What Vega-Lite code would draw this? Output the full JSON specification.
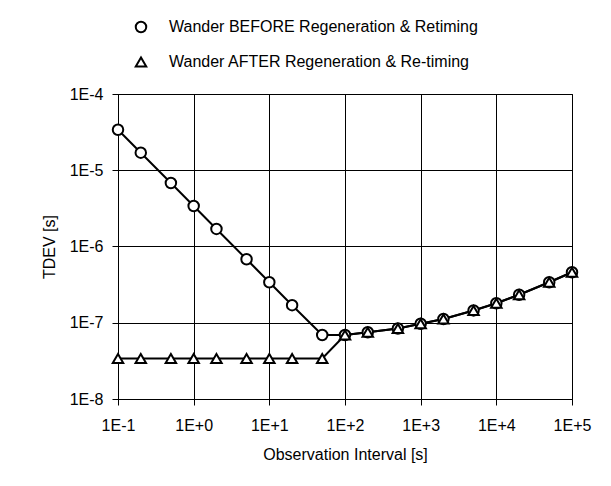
{
  "$schema": "https://vega.github.io/schema/vega-lite/v6.json",
  "autosize": "none",
  "width": 454,
  "height": 305,
  "padding": {"left": 118, "top": 94, "right": 39, "bottom": 87},
  "background": "white",
  "config": {
    "font": "Liberation Sans",
    "view": {"stroke": "black", "strokeWidth": 1},
    "axis": {
      "domainColor": "black",
      "gridColor": "black",
      "gridOpacity": 1,
      "gridWidth": 1,
      "tickColor": "black",
      "tickSize": 6,
      "labelFont": "Liberation Sans",
      "labelFontSize": 16,
      "labelColor": "black",
      "titleFont": "Liberation Sans",
      "titleFontSize": 16,
      "titleFontWeight": "normal",
      "titleColor": "black"
    }
  },
  "data": {
    "values": [
      {"series": "Wander BEFORE Regeneration & Retiming", "x": 0.1, "y": 3.4e-5},
      {"series": "Wander BEFORE Regeneration & Retiming", "x": 0.2, "y": 1.7e-5},
      {"series": "Wander BEFORE Regeneration & Retiming", "x": 0.5, "y": 6.8e-6},
      {"series": "Wander BEFORE Regeneration & Retiming", "x": 1, "y": 3.4e-6},
      {"series": "Wander BEFORE Regeneration & Retiming", "x": 2, "y": 1.7e-6},
      {"series": "Wander BEFORE Regeneration & Retiming", "x": 5, "y": 6.8e-7},
      {"series": "Wander BEFORE Regeneration & Retiming", "x": 10, "y": 3.4e-7},
      {"series": "Wander BEFORE Regeneration & Retiming", "x": 20, "y": 1.7e-7},
      {"series": "Wander BEFORE Regeneration & Retiming", "x": 50, "y": 6.9e-8},
      {"series": "Wander BEFORE Regeneration & Retiming", "x": 100, "y": 6.9e-8},
      {"series": "Wander BEFORE Regeneration & Retiming", "x": 200, "y": 7.5e-8},
      {"series": "Wander BEFORE Regeneration & Retiming", "x": 500, "y": 8.4e-8},
      {"series": "Wander BEFORE Regeneration & Retiming", "x": 1000, "y": 9.7e-8},
      {"series": "Wander BEFORE Regeneration & Retiming", "x": 2000, "y": 1.12e-7},
      {"series": "Wander BEFORE Regeneration & Retiming", "x": 5000, "y": 1.45e-7},
      {"series": "Wander BEFORE Regeneration & Retiming", "x": 10000, "y": 1.8e-7},
      {"series": "Wander BEFORE Regeneration & Retiming", "x": 20000, "y": 2.33e-7},
      {"series": "Wander BEFORE Regeneration & Retiming", "x": 50000, "y": 3.4e-7},
      {"series": "Wander BEFORE Regeneration & Retiming", "x": 100000, "y": 4.6e-7},
      {"series": "Wander AFTER Regeneration & Re-timing", "x": 0.1, "y": 3.4e-8},
      {"series": "Wander AFTER Regeneration & Re-timing", "x": 0.2, "y": 3.4e-8},
      {"series": "Wander AFTER Regeneration & Re-timing", "x": 0.5, "y": 3.4e-8},
      {"series": "Wander AFTER Regeneration & Re-timing", "x": 1, "y": 3.4e-8},
      {"series": "Wander AFTER Regeneration & Re-timing", "x": 2, "y": 3.4e-8},
      {"series": "Wander AFTER Regeneration & Re-timing", "x": 5, "y": 3.4e-8},
      {"series": "Wander AFTER Regeneration & Re-timing", "x": 10, "y": 3.4e-8},
      {"series": "Wander AFTER Regeneration & Re-timing", "x": 20, "y": 3.4e-8},
      {"series": "Wander AFTER Regeneration & Re-timing", "x": 50, "y": 3.4e-8},
      {"series": "Wander AFTER Regeneration & Re-timing", "x": 100, "y": 6.9e-8},
      {"series": "Wander AFTER Regeneration & Re-timing", "x": 200, "y": 7.5e-8},
      {"series": "Wander AFTER Regeneration & Re-timing", "x": 500, "y": 8.4e-8},
      {"series": "Wander AFTER Regeneration & Re-timing", "x": 1000, "y": 9.7e-8},
      {"series": "Wander AFTER Regeneration & Re-timing", "x": 2000, "y": 1.12e-7},
      {"series": "Wander AFTER Regeneration & Re-timing", "x": 5000, "y": 1.45e-7},
      {"series": "Wander AFTER Regeneration & Re-timing", "x": 10000, "y": 1.8e-7},
      {"series": "Wander AFTER Regeneration & Re-timing", "x": 20000, "y": 2.33e-7},
      {"series": "Wander AFTER Regeneration & Re-timing", "x": 50000, "y": 3.4e-7},
      {"series": "Wander AFTER Regeneration & Re-timing", "x": 100000, "y": 4.6e-7}
    ]
  },
  "encoding": {
    "x": {
      "field": "x",
      "type": "quantitative",
      "scale": {"type": "log", "domain": [0.1, 100000], "nice": false},
      "axis": {
        "title": "Observation Interval [s]",
        "values": [0.1, 1, 10, 100, 1000, 10000, 100000],
        "labelExpr": "'1E' + (round(log(datum.value)/LN10) >= 0 ? '+' : '') + round(log(datum.value)/LN10)",
        "labelPadding": 12,
        "titlePadding": 13,
        "labelFlush": false
      }
    },
    "y": {
      "field": "y",
      "type": "quantitative",
      "scale": {"type": "log", "domain": [1e-8, 1e-4], "nice": false},
      "axis": {
        "title": "TDEV [s]",
        "values": [1e-8, 1e-7, 1e-6, 1e-5, 1e-4],
        "labelExpr": "'1E' + (round(log(datum.value)/LN10) >= 0 ? '+' : '') + round(log(datum.value)/LN10)",
        "labelPadding": 9,
        "titlePadding": 12,
        "labelFlush": false
      }
    }
  },
  "layer": [
    {
      "mark": {"type": "line", "stroke": "black", "strokeWidth": 2},
      "encoding": {"detail": {"field": "series"}}
    },
    {
      "mark": {"type": "point", "filled": false, "fill": "white", "fillOpacity": 1, "stroke": "black", "strokeWidth": 2, "opacity": 1, "size": 110},
      "encoding": {
        "shape": {
          "field": "series",
          "type": "nominal",
          "scale": {
            "domain": ["Wander BEFORE Regeneration & Retiming", "Wander AFTER Regeneration & Re-timing"],
            "range": ["circle", "triangle-up"]
          },
          "legend": {
            "title": null,
            "orient": "none",
            "legendX": 15,
            "legendY": -75,
            "direction": "vertical",
            "padding": 0,
            "symbolSize": 110,
            "symbolStrokeWidth": 2,
            "labelOffset": 20,
            "labelFont": "Liberation Sans",
            "labelFontSize": 16,
            "labelColor": "black",
            "labelLimit": 0,
            "rowPadding": 16
          }
        }
      }
    }
  ]
}
